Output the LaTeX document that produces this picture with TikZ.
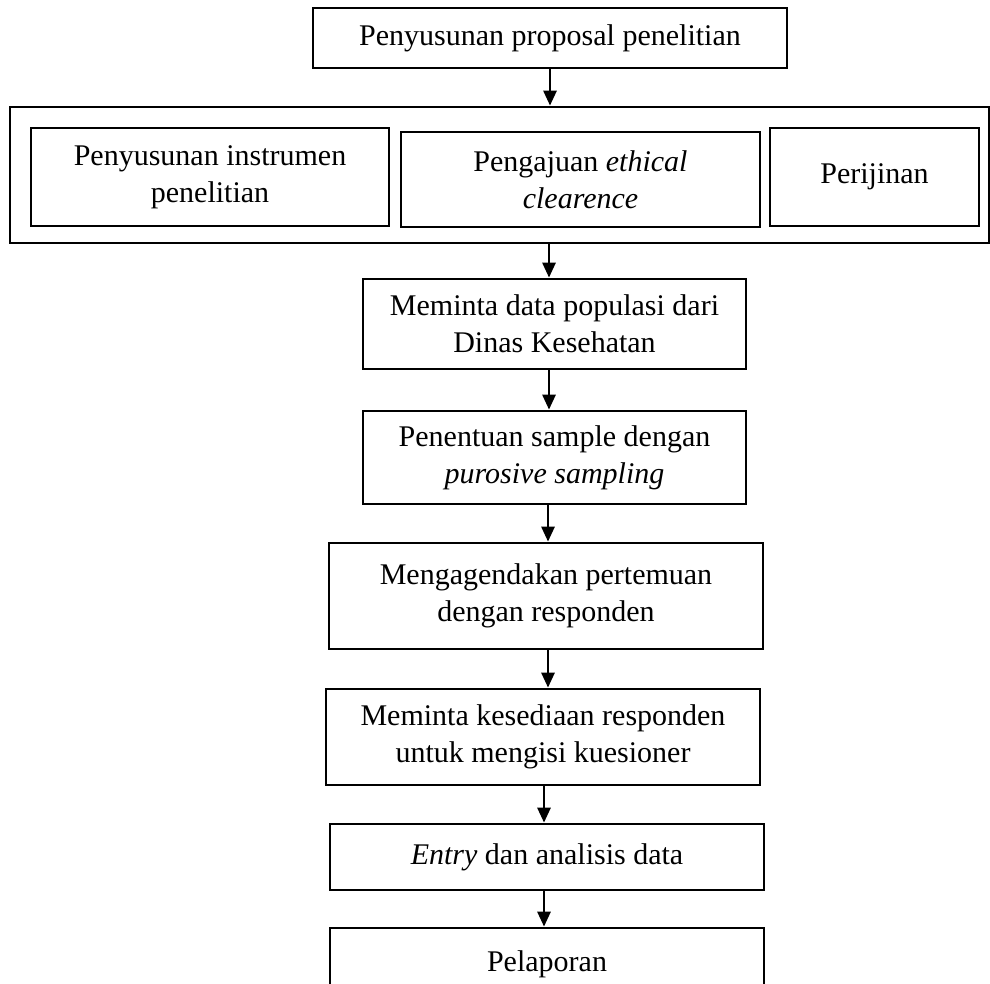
\documentclass[tikz,border=0pt]{standalone}
\usepackage{fontspec}
\setmainfont{Liberation Serif}
\usetikzlibrary{arrows.meta,positioning}
\tikzset{>={Triangle[length=6pt,width=5.2pt]}}
\tikzset{
  kotak/.style={draw, line width=1.1pt, align=center, inner sep=0pt,
    font=\fontsize{12}{14.8}\selectfont},
  panah/.style={->, line width=1.1pt},
}

\begin{document}
\begin{tikzpicture}[x=0.4pt,y=-0.4pt]
				\useasboundingbox (0,0) rectangle (990,983);
				% tahap awal
				\node[kotak, minimum width=189.6pt, minimum height=24pt] (prop) at (550,38) {Penyusunan proposal penelitian};
				\node[kotak, minimum width=391.6pt, minimum height=54.4pt] (luar) at (499.5,175) {};
				\node[kotak, minimum width=143.2pt, minimum height=39.2pt] (instr) at (210,177) {Penyusunan instrumen\\penelitian};
				\node[kotak, minimum width=143.6pt, minimum height=38pt] (etik) at (580.5,179.5) {Pengajuan \textit{ethical}\\\textit{clearence}};
				\node[kotak, minimum width=83.6pt, minimum height=39.2pt] (izin) at (874.5,177) {Perijinan};
				% pengumpulan data
				\node[kotak, minimum width=153.2pt, minimum height=36pt] (popul) at (554.5,324) {Meminta data populasi dari\\Dinas Kesehatan};
				\node[kotak, minimum width=153.2pt, minimum height=37.2pt] (sampel) at (554.5,457.5) {Penentuan sample dengan\\\textit{purosive sampling}};
				\node[kotak, minimum width=173.6pt, minimum height=42.4pt] (agenda) at (546,596) {Mengagendakan pertemuan\\dengan responden};
				\node[kotak, minimum width=173.6pt, minimum height=38.4pt] (sedia) at (543,737) {Meminta kesediaan responden\\untuk mengisi kuesioner};
				\node[kotak, minimum width=173.6pt, minimum height=26.4pt] (entry) at (547,857) {\textit{Entry} dan analisis data};
				\node[kotak, minimum width=173.6pt, minimum height=28.8pt] (lapor) at (547,964) {Pelaporan};
				
				\draw[panah] (prop.south) -- (prop.south |- luar.north);
				\draw[panah] (luar.south -| 549,0) -- (549,0 |- popul.north);
				\draw[panah] (popul.south -| 549,0) -- (549,0 |- sampel.north);
				\draw[panah] (sampel.south -| 548,0) -- (548,0 |- agenda.north);
				\draw[panah] (agenda.south -| 548,0) -- (548,0 |- sedia.north);
				\draw[panah] (sedia.south -| 544,0) -- (544,0 |- entry.north);
				\draw[panah] (entry.south -| 544,0) -- (544,0 |- lapor.north);
				\end{tikzpicture}
\end{document}
